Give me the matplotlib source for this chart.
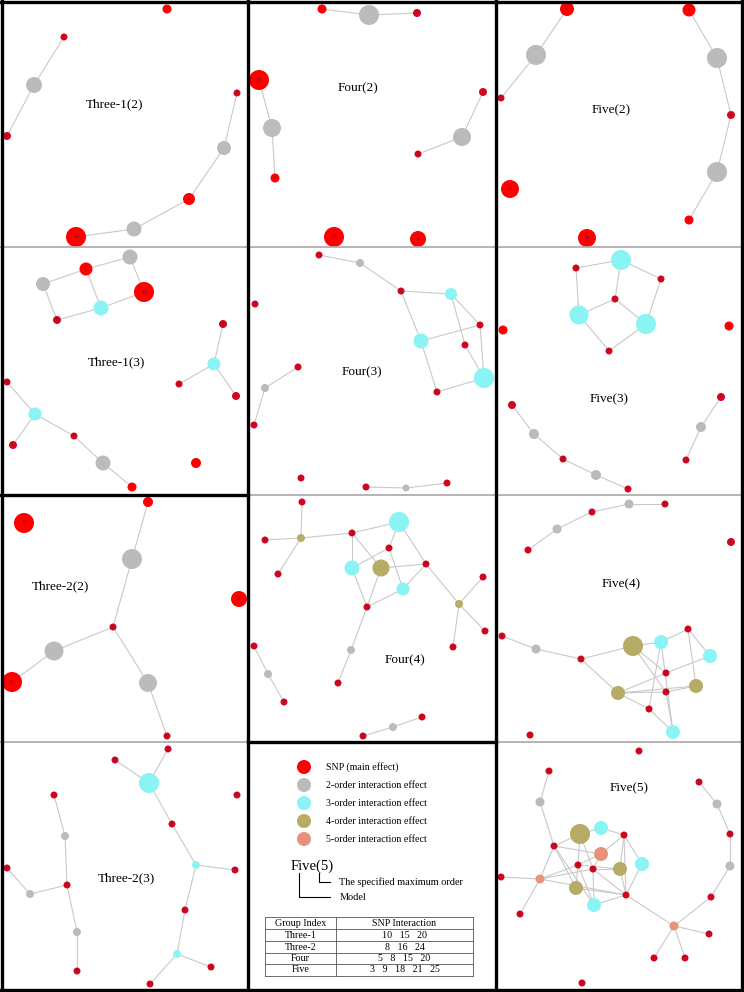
import matplotlib
matplotlib.use('Agg')
import matplotlib.pyplot as plt
from matplotlib.patches import Circle

plt.rcParams['font.family'] = ['Liberation Serif', 'DejaVu Serif']

# node kinds: 'S' = SNP main effect, '2'..'5' = k-order interaction
# node tuples: (x, y, kind, effect size, label)

# Three-1(2)
three1_2_title = 'Three-1(2)'
three1_2_nodes = [(167, 9, 'S', 4.5, '3'), (64, 37, 'S', 3.5, '0'), (34, 85, '2', 8, ''),
                  (7, 136, 'S', 4, '8'), (237, 93, 'S', 3.5, '20'), (224, 148, '2', 7, ''),
                  (189, 199, 'S', 6, '15'), (134, 229, '2', 7.5, ''), (76, 237, 'S', 10, '10')]
three1_2_edges = [(1, 2), (2, 3), (4, 5), (5, 6), (6, 7), (7, 8)]

# Four(2)
four_2_title = 'Four(2)'
four_2_nodes = [(322, 9, 'S', 4.5, '11'), (369, 15, '2', 10, ''), (417, 13, 'S', 4, '24'),
                (259, 80, 'S', 10, '23'), (272, 128, '2', 9, ''), (275, 178, 'S', 4.5, '19'),
                (483, 92, 'S', 4, '21'), (462, 137, '2', 9, ''), (418, 154, 'S', 3.5, '20'),
                (334, 237, 'S', 10, '12'), (418, 239, 'S', 8, '14')]
four_2_edges = [(0, 1), (1, 2), (3, 4), (4, 5), (6, 7), (7, 8)]

# Five(2)
five_2_title = 'Five(2)'
five_2_nodes = [(567, 9, 'S', 7, '14'), (536, 55, '2', 10, ''), (501, 98, 'S', 3.5, '9'),
                (689, 10, 'S', 6.5, '8'), (717, 58, '2', 10, ''), (731, 115, 'S', 4, '24'),
                (717, 172, '2', 10, ''), (689, 220, 'S', 4.5, '11'), (510, 189, 'S', 9, '23'),
                (587, 238, 'S', 9, '12')]
five_2_edges = [(0, 1), (1, 2), (3, 4), (4, 5), (5, 6), (6, 7)]

# Three-1(3)
three1_3_title = 'Three-1(3)'
three1_3_nodes = [(130, 257, '2', 7.5, ''), (86, 269, 'S', 6.5, '15'), (43, 284, '2', 7, ''),
                  (144, 292, 'S', 10, '10'), (101, 308, '3', 7.5, ''), (57, 320, 'S', 4, '20'),
                  (223, 324, 'S', 4, '14'), (214, 364, '3', 6.5, ''), (179, 384, 'S', 3.5, '1'),
                  (236, 396, 'S', 4, '11'), (7, 382, 'S', 3.5, '5'), (35, 414, '3', 6.5, ''),
                  (13, 445, 'S', 4, '7'), (74, 436, 'S', 3.5, '16'), (103, 463, '2', 7.5, ''),
                  (132, 487, 'S', 4.5, '8'), (196, 463, 'S', 5, '3')]
three1_3_edges = [(0, 1), (1, 2), (2, 5), (5, 4), (4, 3), (1, 4), (0, 3), (6, 7), (7, 8), (7, 9),
                  (10, 11), (11, 12), (11, 13), (13, 14), (14, 15)]

# Four(3)
four_3_title = 'Four(3)'
four_3_nodes = [(319, 255, 'S', 3.5, '3'), (360, 263, '2', 4, ''), (401, 291, 'S', 3.5, '6'),
                (451, 294, '3', 6, ''), (480, 325, 'S', 3.5, '15'), (421, 341, '3', 7.5, ''),
                (465, 345, 'S', 3.5, '5'), (484, 378, '3', 10, ''), (437, 392, 'S', 3.5, '8'),
                (255, 304, 'S', 3.5, '12'), (298, 367, 'S', 3.5, '10'), (265, 388, '2', 4, ''),
                (254, 425, 'S', 3.5, '2'), (301, 478, 'S', 3.5, '4'), (366, 487, 'S', 3.5, '20'),
                (406, 488, '2', 3.5, ''), (447, 483, 'S', 3.5, '1')]
four_3_edges = [(0, 1), (1, 2), (2, 3), (2, 5), (3, 4), (3, 6), (4, 5), (4, 7), (6, 7), (5, 8),
                (8, 7), (10, 11), (11, 12), (14, 15), (15, 16)]

# Five(3)
five_3_title = 'Five(3)'
five_3_nodes = [(621, 260, '3', 10, ''), (576, 268, 'S', 3.5, '9'), (661, 279, 'S', 3.5, '3'),
                (615, 299, 'S', 3.5, '21'), (579, 315, '3', 9.5, ''), (646, 324, '3', 10, ''),
                (609, 351, 'S', 3.5, '25'), (503, 330, 'S', 4.5, '12'), (729, 326, 'S', 4.5, '23'),
                (512, 405, 'S', 4, '8'), (534, 434, '2', 5, ''), (563, 459, 'S', 3.5, '24'),
                (596, 475, '2', 5, ''), (628, 489, 'S', 3.5, '11'), (721, 397, 'S', 4, '14'),
                (701, 427, '2', 5, ''), (686, 460, 'S', 3.5, '6')]
five_3_edges = [(1, 0), (0, 2), (0, 3), (1, 4), (4, 3), (3, 5), (2, 5), (4, 6), (6, 5), (9, 10),
                (10, 11), (11, 12), (12, 13), (14, 15), (15, 16)]

# Three-2(2)
three2_2_title = 'Three-2(2)'
three2_2_nodes = [(148, 502, 'S', 5, '20'), (132, 559, '2', 10, ''), (113, 627, 'S', 3.5, '16'),
                  (54, 651, '2', 9.5, ''), (12, 682, 'S', 10, '23'), (148, 683, '2', 9, ''),
                  (167, 736, 'S', 3.5, '8'), (24, 523, 'S', 10, '12'), (239, 599, 'S', 8, '14')]
three2_2_edges = [(0, 1), (1, 2), (2, 3), (3, 4), (2, 5), (5, 6)]

# Four(4)
four_4_title = 'Four(4)'
four_4_nodes = [(302, 502, 'S', 3.5, '2'), (301, 538, '4', 4, ''), (265, 540, 'S', 3.5, '6'),
                (278, 574, 'S', 3.5, '9'), (352, 533, 'S', 3.5, '8'), (399, 522, '3', 10, ''),
                (389, 548, 'S', 3.5, '5'), (352, 568, '3', 7.5, ''), (381, 568, '4', 8.5, ''),
                (426, 564, 'S', 3.5, '15'), (403, 589, '3', 6.5, ''), (367, 607, 'S', 3.5, '20'),
                (459, 604, '4', 4, ''), (483, 577, 'S', 3.5, '1'), (485, 631, 'S', 3.5, '11'),
                (453, 647, 'S', 3.5, '3'), (351, 650, '2', 4, ''), (338, 683, 'S', 3.5, '7'),
                (254, 646, 'S', 3.5, '4'), (268, 674, '2', 4, ''), (284, 702, 'S', 3.5, '10'),
                (422, 717, 'S', 3.5, '22'), (393, 727, '2', 4, ''), (363, 736, 'S', 3.5, '13')]
four_4_edges = [(0, 1), (2, 1), (3, 1), (1, 4), (4, 5), (4, 7), (4, 8), (5, 6), (5, 9), (6, 7),
                (6, 10), (8, 9), (8, 11), (7, 11), (11, 10), (10, 9), (9, 12), (12, 13), (12, 14),
                (12, 15), (11, 16), (16, 17), (18, 19), (19, 20), (21, 22), (22, 23)]

# Five(4)
five_4_title = 'Five(4)'
five_4_nodes = [(665, 504, 'S', 3.5, '8'), (629, 504, '2', 4.5, ''), (592, 512, 'S', 3.5, '24'),
                (557, 529, '2', 4.5, ''), (528, 550, 'S', 3.5, '11'), (731, 542, 'S', 4, '23'),
                (502, 636, 'S', 3.5, '14'), (536, 649, '2', 4.5, ''), (581, 659, 'S', 3.5, '6'),
                (633, 646, '4', 10, ''), (661, 642, '3', 7, ''), (688, 629, 'S', 3.5, '18'),
                (710, 656, '3', 7, ''), (666, 673, 'S', 3.5, '21'), (696, 686, '4', 7, ''),
                (618, 693, '4', 7, ''), (666, 692, 'S', 3.5, '3'), (649, 709, 'S', 3.5, '9'),
                (673, 732, '3', 7, ''), (530, 735, 'S', 3.5, '12')]
five_4_edges = [(0, 1), (1, 2), (2, 3), (3, 4), (6, 7), (7, 8), (8, 9), (8, 15), (9, 10), (10, 11),
                (11, 12), (11, 14), (9, 13), (9, 16), (10, 17), (10, 18), (13, 12), (13, 15),
                (15, 16), (15, 14), (15, 17), (16, 14), (17, 18), (16, 18)]

# Three-2(3)
three2_3_title = 'Three-2(3)'
three2_3_nodes = [(168, 749, 'S', 3.5, '20'), (115, 760, 'S', 3.5, '13'), (149, 783, '3', 10, ''),
                  (237, 795, 'S', 3.5, '12'), (172, 824, 'S', 3.5, '15'), (196, 865, '3', 4, ''),
                  (235, 870, 'S', 3.5, '22'), (185, 910, 'S', 3.5, '8'), (177, 954, '3', 4, ''),
                  (211, 967, 'S', 3.5, '24'), (150, 984, 'S', 3.5, '16'), (54, 795, 'S', 3.5, '14'),
                  (65, 836, '2', 4, ''), (67, 885, 'S', 3.5, '6'), (7, 868, 'S', 3.5, '4'),
                  (30, 894, '2', 4, ''), (77, 932, '2', 4, ''), (77, 971, 'S', 3.5, '10')]
three2_3_edges = [(0, 2), (1, 2), (2, 4), (4, 5), (5, 6), (5, 7), (7, 8), (8, 9), (8, 10),
                  (11, 12), (12, 13), (14, 15), (15, 13), (13, 16), (16, 17)]

# Five(5)
five_5_title = 'Five(5)'
five_5_nodes = [(639, 751, 'S', 3.5, '12'), (549, 771, 'S', 3.5, '14'), (540, 802, '2', 4.5, ''),
                (554, 846, 'S', 3.5, '9'), (580, 834, '4', 10, ''), (601, 828, '3', 7, ''),
                (624, 835, 'S', 3.5, '3'), (601, 854, '5', 7, ''), (578, 865, 'S', 3.5, '18'),
                (593, 869, 'S', 3.5, '21'), (620, 869, '4', 7, ''), (642, 864, '3', 7, ''),
                (576, 888, '4', 7, ''), (540, 879, '5', 4.5, ''), (501, 877, 'S', 3.5, '5'),
                (520, 914, 'S', 3.5, '15'), (594, 905, '3', 7, ''), (626, 895, 'S', 3.5, '25'),
                (674, 926, '5', 4.5, ''), (709, 934, 'S', 3.5, '13'), (685, 958, 'S', 3.5, '6'),
                (654, 958, 'S', 3.5, '2'), (711, 897, 'S', 3.5, '1'), (730, 866, '2', 4.5, ''),
                (730, 834, 'S', 3.5, '24'), (717, 804, '2', 4.5, ''), (699, 782, 'S', 3.5, '8'),
                (582, 983, 'S', 3.5, '23')]
five_5_edges = [(1, 2), (2, 3), (26, 25), (25, 24), (24, 23), (23, 22), (22, 18), (18, 19),
                (18, 20), (18, 21), (18, 17), (3, 4), (3, 7), (3, 12), (3, 16), (3, 13), (13, 14),
                (13, 15), (13, 8), (13, 9), (13, 17), (4, 5), (4, 8), (4, 9), (5, 6), (6, 7),
                (6, 10), (6, 11), (6, 17), (7, 8), (7, 9), (8, 12), (8, 16), (8, 10), (9, 16),
                (9, 10), (9, 17), (10, 17), (11, 17), (16, 17), (12, 17)]

panels = [
    (three1_2_title, (115, 104), three1_2_nodes, three1_2_edges),
    (four_2_title, (358, 88), four_2_nodes, four_2_edges),
    (five_2_title, (611, 110), five_2_nodes, five_2_edges),
    (three1_3_title, (116, 362), three1_3_nodes, three1_3_edges),
    (four_3_title, (362, 372), four_3_nodes, four_3_edges),
    (five_3_title, (609, 399), five_3_nodes, five_3_edges),
    (three2_2_title, (61, 586), three2_2_nodes, three2_2_edges),
    (four_4_title, (405, 660), four_4_nodes, four_4_edges),
    (five_4_title, (621, 584), five_4_nodes, five_4_edges),
    (three2_3_title, (126, 878), three2_3_nodes, three2_3_edges),
    (five_5_title, (629, 788), five_5_nodes, five_5_edges),
]

legend_labels = ['SNP (main effect)', '2-order interaction effect', '3-order interaction effect',
                 '4-order interaction effect', '5-order interaction effect']
legend_kinds = ['S', '2', '3', '4', '5']

table_header = ['Group Index', 'SNP Interaction']
table_groups = ['Three-1', 'Three-2', 'Four', 'Five']
table_snps = [[10, 15, 20], [8, 16, 24], [5, 8, 15, 20], [3, 9, 18, 21, 25]]

colors = {'S': '#ff0000', '2': '#bbbbbb', '3': '#8af3f3', '4': '#b6ac66', '5': '#e8917b'}
small_snp = '#d3061f'
edge_col = '#c9c9c9'

fig = plt.figure(figsize=(7.44, 9.92), dpi=100)
ax = fig.add_axes([0, 0, 1, 1])
ax.set_xlim(0, 744)
ax.set_ylim(992, 0)
ax.axis('off')

for title, (tx, ty), nodes, edges in panels:
    for a, b in edges:
        ax.plot([nodes[a][0], nodes[b][0]], [nodes[a][1], nodes[b][1]],
                color=edge_col, lw=0.8, zorder=1)
    for x, y, kind, r, lab in nodes:
        c = colors[kind]
        if kind == 'S' and r < 4.5:
            c = small_snp
        ax.add_patch(Circle((x, y), r, facecolor=c, edgecolor='none', zorder=2))
        if lab:
            ax.text(x, y, lab, fontsize=max(1.8, r * 0.42), color='#6a0a3a',
                    ha='center', va='center', zorder=3)
    ax.text(tx, ty, title, fontsize=9.5, ha='center', va='center', zorder=4)

# gray separators between panels
gray = '#a8a8a8'
ax.plot([0, 744], [247, 247], color=gray, lw=1.2, zorder=5)
ax.plot([248, 744], [495, 495], color=gray, lw=1.2, zorder=5)
ax.plot([0, 248], [742, 742], color=gray, lw=1.2, zorder=5)
ax.plot([496, 744], [742, 742], color=gray, lw=1.2, zorder=5)

# thick black frames
for x in [2, 248, 496, 742]:
    ax.plot([x, x], [0, 992], color='black', lw=2.4, zorder=6)
ax.plot([0, 744], [2, 2], color='black', lw=2.4, zorder=6)
ax.plot([0, 744], [990, 990], color='black', lw=2.4, zorder=6)
ax.plot([0, 248], [495, 495], color='black', lw=2.4, zorder=6)
ax.plot([248, 496], [742, 742], color='black', lw=2.4, zorder=6)

# legend panel
for i, (lab, kind) in enumerate(zip(legend_labels, legend_kinds)):
    y = 767 + i * 18
    ax.add_patch(Circle((304, y), 7, facecolor=colors[kind], edgecolor='none', zorder=2))
    ax.text(326, y, lab, fontsize=7.2, ha='left', va='center')

ax.text(291, 866, 'Five(5)', fontsize=10.5, ha='left', va='center')
ax.plot([299, 299, 330], [873, 897, 897], color='black', lw=0.8)
ax.plot([319, 319, 330], [873, 882, 882], color='black', lw=0.8)
ax.text(339, 882, 'The specified maximum order', fontsize=7.4, ha='left', va='center')
ax.text(340, 897, 'Model', fontsize=7.4, ha='left', va='center')

# table
tx0, tx1, tmid = 265, 473, 336
row_y = [917, 929, 941, 953, 964, 976]
for y in row_y:
    ax.plot([tx0, tx1], [y, y], color='#555555', lw=0.6)
for x in [tx0, tmid, tx1]:
    ax.plot([x, x], [row_y[0], row_y[-1]], color='#555555', lw=0.6)
ax.text((tx0 + tmid) / 2, (row_y[0] + row_y[1]) / 2, table_header[0], fontsize=7.2,
        ha='center', va='center')
ax.text((tmid + tx1) / 2, (row_y[0] + row_y[1]) / 2, table_header[1], fontsize=7.2,
        ha='center', va='center')
for i, (g, snps) in enumerate(zip(table_groups, table_snps)):
    yc = (row_y[i + 1] + row_y[i + 2]) / 2
    ax.text((tx0 + tmid) / 2, yc, g, fontsize=7.2, ha='center', va='center')
    ax.text((tmid + tx1) / 2, yc, '   '.join(str(s) for s in snps), fontsize=7.2,
            ha='center', va='center')

fig.savefig('out.png', dpi=100)
